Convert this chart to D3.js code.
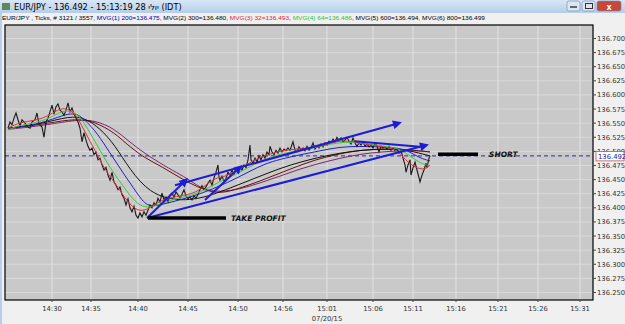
<!DOCTYPE html>
<html><head><meta charset="utf-8">
<script src="https://cdn.jsdelivr.net/npm/d3@7/dist/d3.min.js"></script>
<style>
body{margin:0;background:#f0f0f0;overflow:hidden}
svg{display:block;font-family:"DejaVu Sans",Verdana,sans-serif}
</style></head><body>
<svg id="c" width="625" height="324"></svg>
<script>
// ---------- DATA ----------
const titleText = "EUR/JPY - 136.492 - 15:13:19  28 יולי (IDT)";
const headerParts = [
  ["EUR/JPY , Ticks, # 3121 / 3557, ", "#000"],
  ["MVG(1) 200=136.475", "#0000b0"],
  [", MVG(2) 300=136.480, ", "#000"],
  ["MVG(3) 32=136.493", "#e0203a"],
  [", ", "#000"],
  ["MVG(4) 64=136.486", "#30c030"],
  [", MVG(5) 600=136.494, MVG(6) 800=136.499", "#000"]
];
const xTickIdx = [47, 86, 133, 183, 233, 278, 322, 368, 408, 451, 493, 533, 575];
const xTickLabels = ["14:30","14:35","14:40","14:45","14:50","14:56","15:01","15:06","15:11","15:16","15:21","15:26","15:31"];
const dateLabel = "07/20/15";
const dateIdx = 322;
const yTicks = [136.250,136.275,136.300,136.325,136.350,136.375,136.400,136.425,136.450,136.475,136.500,136.525,136.550,136.575,136.600,136.625,136.650,136.675,136.700];
const lastPrice = 136.492;

const tickIdx = [3,5,7,9,11,13,15,17,20,23,25,27,30,32,34,37,39,41,43,45,47,49,51,53,55,57,59,61,63,65,67,69,71,73,75,77,79,81,83,85,87,89,91,93,95,97,99,101,103,105,107,109,111,113,115,117,119,121,123,125,127,129,131,133,135,137,139,141,143,145,147,149,151,153,155,157,159,161,163,165,167,169,171,173,175,177,179,181,183,185,187,189,191,193,195,197,199,201,203,205,207,209,211,213,214,215,217,219,221,223,225,227,229,231,233,235,237,239,241,243,245,246,248,250,252,254,256,258,260,262,264,265,267,269,271,273,275,277,279,281,283,285,288,290,292,294,296,298,300,302,304,306,308,310,312,314,316,318,320,322,324,326,328,330,332,334,336,338,340,342,344,346,348,350,352,354,356,358,360,362,364,366,368,370,372,374,376,378,380,382,384,386,388,390,392,394,396,398,400,401,403,405,406,408,410,412,414,415,417,419,421,422,424,425];
const tickPrice = [136.541,136.552,136.547,136.559,136.568,136.556,136.545,136.556,136.550,136.543,136.541,136.552,136.556,136.568,136.548,136.543,136.525,136.552,136.559,136.570,136.582,136.566,136.579,136.584,136.573,136.570,136.564,136.573,136.586,136.570,136.577,136.566,136.559,136.552,136.541,136.517,136.533,136.520,136.509,136.502,136.506,136.494,136.499,136.485,136.488,136.476,136.467,136.472,136.458,136.449,136.463,136.446,136.440,136.432,136.437,136.423,136.417,136.405,136.416,136.400,136.393,136.403,136.387,136.382,136.391,136.384,136.393,136.387,136.396,136.405,136.400,136.409,136.405,136.417,136.410,136.426,136.414,136.419,136.410,136.423,136.426,136.419,136.428,136.423,136.417,136.424,136.432,136.421,136.416,136.419,136.414,136.421,136.417,136.424,136.432,136.439,136.432,136.437,136.444,136.449,136.440,136.453,136.463,136.476,136.455,136.449,136.456,136.447,136.453,136.463,136.458,136.467,136.460,136.471,136.463,136.472,136.467,136.476,136.471,136.485,136.511,136.485,136.479,136.488,136.481,136.492,136.485,136.494,136.488,136.499,136.494,136.509,136.499,136.494,136.502,136.497,136.506,136.499,136.504,136.501,136.506,136.502,136.517,136.502,136.499,136.508,136.502,136.506,136.501,136.509,136.502,136.506,136.515,136.504,136.509,136.506,136.513,136.508,136.515,136.511,136.518,136.515,136.522,136.517,136.525,136.520,136.524,136.517,136.520,136.525,136.518,136.513,136.524,136.515,136.509,136.515,136.511,136.517,136.509,136.513,136.508,136.511,136.506,136.515,136.509,136.499,136.509,136.506,136.508,136.504,136.509,136.502,136.506,136.501,136.504,136.497,136.502,136.488,136.476,136.463,136.476,136.485,136.458,136.471,136.481,136.467,136.453,136.446,136.458,136.467,136.479,136.471,136.488,136.492];

const mvg3 = [[3,136.541],[15,136.552],[30,136.554],[45,136.564],[55,136.577],[65,136.575],[73,136.559],[80,136.534],[90,136.502],[100,136.467],[110,136.444],[120,136.417],[130,136.396],[140,136.394],[150,136.407],[160,136.416],[175,136.421],[190,136.426],[200,136.439],[210,136.453],[220,136.455],[230,136.465],[240,136.474],[250,136.486],[260,136.492],[275,136.501],[290,136.504],[305,136.506],[320,136.511],[335,136.520],[350,136.517],[365,136.511],[380,136.508],[393,136.502],[400,136.485],[410,136.471],[420,136.467],[425,136.476]];
const mvg4 = [[3,136.538],[15,136.547],[30,136.550],[45,136.559],[55,136.570],[65,136.573],[75,136.563],[85,136.533],[95,136.502],[105,136.471],[115,136.446],[125,136.421],[135,136.403],[145,136.400],[155,136.407],[170,136.416],[185,136.421],[200,136.432],[210,136.442],[220,136.451],[235,136.463],[250,136.478],[265,136.490],[280,136.497],[295,136.502],[310,136.506],[325,136.513],[340,136.517],[355,136.515],[370,136.511],[385,136.508],[395,136.504],[405,136.492],[415,136.479],[425,136.474]];
const mvg1 = [[3,136.541],[35,136.548],[60,136.566],[72,136.568],[82,136.552],[92,136.533],[105,136.497],[118,136.462],[132,136.426],[142,136.401],[155,136.405],[170,136.412],[185,136.419],[200,136.428],[215,136.439],[230,136.451],[245,136.465],[260,136.478],[275,136.486],[295,136.494],[315,136.501],[335,136.508],[355,136.509],[375,136.508],[395,136.506],[405,136.499],[415,136.488],[425,136.483]];
const mvg2 = [[3,136.541],[35,136.548],[65,136.563],[80,136.559],[95,136.541],[110,136.511],[125,136.467],[145,136.426],[168,136.414],[185,136.414],[200,136.419],[215,136.428],[235,136.442],[255,136.456],[275,136.470],[295,136.481],[315,136.490],[335,136.497],[355,136.502],[375,136.504],[395,136.504],[410,136.499],[425,136.492]];
const mvg5 = [[3,136.541],[35,136.547],[65,136.557],[85,136.556],[105,136.538],[115,136.524],[125,136.508],[140,136.488],[158,136.472],[175,136.453],[192,136.437],[212,136.424],[230,136.432],[250,136.444],[270,136.458],[290,136.472],[310,136.485],[330,136.494],[350,136.501],[370,136.504],[390,136.504],[410,136.502],[425,136.499]];
const mvg6 = [[3,136.539],[35,136.545],[65,136.554],[85,136.557],[105,136.545],[120,136.524],[135,136.502],[155,136.479],[172,136.462],[185,136.449],[198,136.432],[215,136.428],[235,136.433],[255,136.444],[275,136.456],[295,136.469],[315,136.479],[335,136.488],[355,136.495],[375,136.499],[395,136.501],[415,136.501],[425,136.499]];

const arrowsData = [
  [[142,136.382],[178,136.444],true],
  [[200,136.414],[232,136.467],true],
  [[170,136.440],[390,136.548],true],
  [[142,136.382],[417,136.509],true],
  [[350,136.518],[415,136.508],false]
];
const takeProfit = {from:143, to:221, price:136.382, label:"TAKE PROFIT", gap:5};
const shortMark = {from:433, to:473, price:136.495, label:"SHORT", gap:11};

// ---------- DRAW ----------
const svg = d3.select("#c");
const L=5, R=593, T=25, B=300;
const x = d3.scaleLinear().domain([0,588]).range([L,R]);
const y = d3.scaleLinear().domain([136.2367,136.7239]).range([B,T]);

const defs = svg.append("defs");
const g1 = defs.append("linearGradient").attr("id","tb").attr("x1",0).attr("y1",0).attr("x2",0).attr("y2",1);
g1.append("stop").attr("offset","0%").attr("stop-color","#d9e7f6");
g1.append("stop").attr("offset","100%").attr("stop-color","#b4cde9");
svg.append("rect").attr("x",0).attr("y",0).attr("width",625).attr("height",324).attr("fill","#f0f0f0");
svg.append("rect").attr("x",0).attr("y",0).attr("width",625).attr("height",13).attr("fill","url(#tb)");
svg.append("rect").attr("x",0).attr("y",13).attr("width",2).attr("height",311).attr("fill","#b8cfe8");
svg.append("rect").attr("x",2).attr("y",3).attr("width",8).attr("height",7).attr("fill","#5a8a5a");
svg.append("text").attr("x",14).attr("y",10).attr("font-size",8.2).attr("fill","#000").text(titleText);
const btn = [[567,13,"#dce6f2"],[582,13,"#dce6f2"],[597,24,"#c9463d"]];
btn.forEach(b=>svg.append("rect").attr("x",b[0]).attr("y",1).attr("width",b[1]).attr("height",10).attr("rx",2).attr("fill",b[2]).attr("stroke","#6d84a8").attr("stroke-width",0.6));
svg.append("line").attr("x1",570).attr("x2",577).attr("y1",7).attr("y2",7).attr("stroke","#333").attr("stroke-width",1.4);
svg.append("rect").attr("x",585.5).attr("y",3.5).attr("width",7).attr("height",5).attr("fill","none").attr("stroke","#333");
svg.append("text").attr("x",609).attr("y",10).attr("text-anchor","middle").attr("font-size",8).attr("font-weight","bold").attr("fill","#fff").text("x");

// header: sequential segments
let hx = 2;
const hg = svg.append("g");
headerParts.forEach(p=>{
  const t = hg.append("text").attr("x",hx).attr("y",20).attr("font-size",6.2)
    .attr("font-family","'Liberation Sans',Arial,sans-serif").attr("fill",p[1]).attr("xml:space","preserve")
    .style("white-space","pre").text(p[0]);
  hx += t.node().getComputedTextLength();
});
const sc = 485 / hx;
hg.attr("transform", `translate(2,0) scale(${sc},1) translate(-2,0)`);

svg.append("rect").attr("x",L).attr("y",T).attr("width",R-L).attr("height",B-T).attr("fill","#c9c9c9");
svg.append("g").selectAll("line").data(yTicks).join("line")
  .attr("x1",L).attr("x2",R).attr("y1",d=>y(d)).attr("y2",d=>y(d)).attr("stroke","#dadada").attr("stroke-width",1);
svg.append("g").selectAll("line").data(xTickIdx).join("line")
  .attr("x1",d=>x(d)).attr("x2",d=>x(d)).attr("y1",T).attr("y2",B).attr("stroke","#e2e2e2").attr("stroke-width",1);

svg.append("line").attr("x1",L).attr("x2",R).attr("y1",y(lastPrice)).attr("y2",y(lastPrice))
  .attr("stroke","#2a2aa0").attr("stroke-width",1).attr("stroke-dasharray","4,3");

const line = d3.line().x(d=>x(d[0])).y(d=>y(d[1])).curve(d3.curveBasis);
const rawLine = d3.line().x(d=>x(d[0])).y(d=>y(d[1]));

const slow = [[mvg6,"#7a2a6a"],[mvg5,"#6a1010"],[mvg2,"#111"],[mvg1,"#2020c8"]];
slow.forEach(s=>svg.append("path").attr("d",line(s[0])).attr("fill","none").attr("stroke",s[1]).attr("stroke-width",1));

const priceData = tickIdx.map((d,i)=>[d,tickPrice[i]]);
svg.append("path").attr("d",rawLine(priceData)).attr("fill","none").attr("stroke","#1a1a1a").attr("stroke-width",1.1);
svg.append("path").attr("d",line(mvg4)).attr("fill","none").attr("stroke","#3cc83c").attr("stroke-width",1);
svg.append("path").attr("d",line(mvg3)).attr("fill","none").attr("stroke","#e0303a").attr("stroke-width",1);

defs.append("marker").attr("id","ah").attr("viewBox","0 0 10 10").attr("refX",2).attr("refY",5)
  .attr("markerWidth",11).attr("markerHeight",9).attr("markerUnits","userSpaceOnUse").attr("orient","auto")
  .append("path").attr("d","M0,0L10,5L0,10z").attr("fill","#1c1cd8");
arrowsData.forEach(a=>{
  const p = svg.append("line").attr("x1",x(a[0][0])).attr("y1",y(a[0][1])).attr("x2",x(a[1][0])).attr("y2",y(a[1][1]))
    .attr("stroke","#1c1cd8").attr("stroke-width",2);
  if(a[2]) p.attr("marker-end","url(#ah)");
});

[takeProfit, shortMark].forEach(m=>{
  svg.append("line").attr("x1",x(m.from)).attr("x2",x(m.to)).attr("y1",y(m.price)).attr("y2",y(m.price))
    .attr("stroke","#000").attr("stroke-width",3.5);
  svg.append("text").attr("x",x(m.to)+m.gap).attr("y",y(m.price)+3).attr("font-size",7.5)
    .attr("font-weight","bold").attr("font-style","italic").attr("fill","#111").text(m.label);
});

svg.append("rect").attr("x",L).attr("y",T).attr("width",R-L).attr("height",B-T).attr("fill","none").attr("stroke","#000").attr("stroke-width",1.2);

const ya = svg.append("g");
yTicks.forEach(t=>{
  ya.append("line").attr("x1",R).attr("x2",R+3).attr("y1",y(t)).attr("y2",y(t)).attr("stroke","#444");
  ya.append("text").attr("x",R+4).attr("y",y(t)+2.5).attr("font-size",6.8).attr("fill","#333").text(t.toFixed(3));
});
svg.append("rect").attr("x",R+3).attr("y",y(lastPrice)-4.5).attr("width",28).attr("height",9.5).attr("fill","#fff").attr("stroke","#c05050").attr("stroke-width",0.8);
svg.append("text").attr("x",R+5).attr("y",y(lastPrice)+2.8).attr("font-size",6.8).attr("fill","#2020a0").text(lastPrice.toFixed(3));

xTickIdx.forEach((t,i)=>{
  svg.append("line").attr("x1",x(t)).attr("x2",x(t)).attr("y1",B).attr("y2",B+2).attr("stroke","#444");
  svg.append("text").attr("x",x(t)).attr("y",311).attr("text-anchor","middle").attr("font-size",6.8).attr("fill","#333").text(xTickLabels[i]);
});
svg.append("text").attr("x",x(dateIdx)).attr("y",321).attr("text-anchor","middle").attr("font-size",6.8).attr("fill","#333").text(dateLabel);
</script></body></html>
